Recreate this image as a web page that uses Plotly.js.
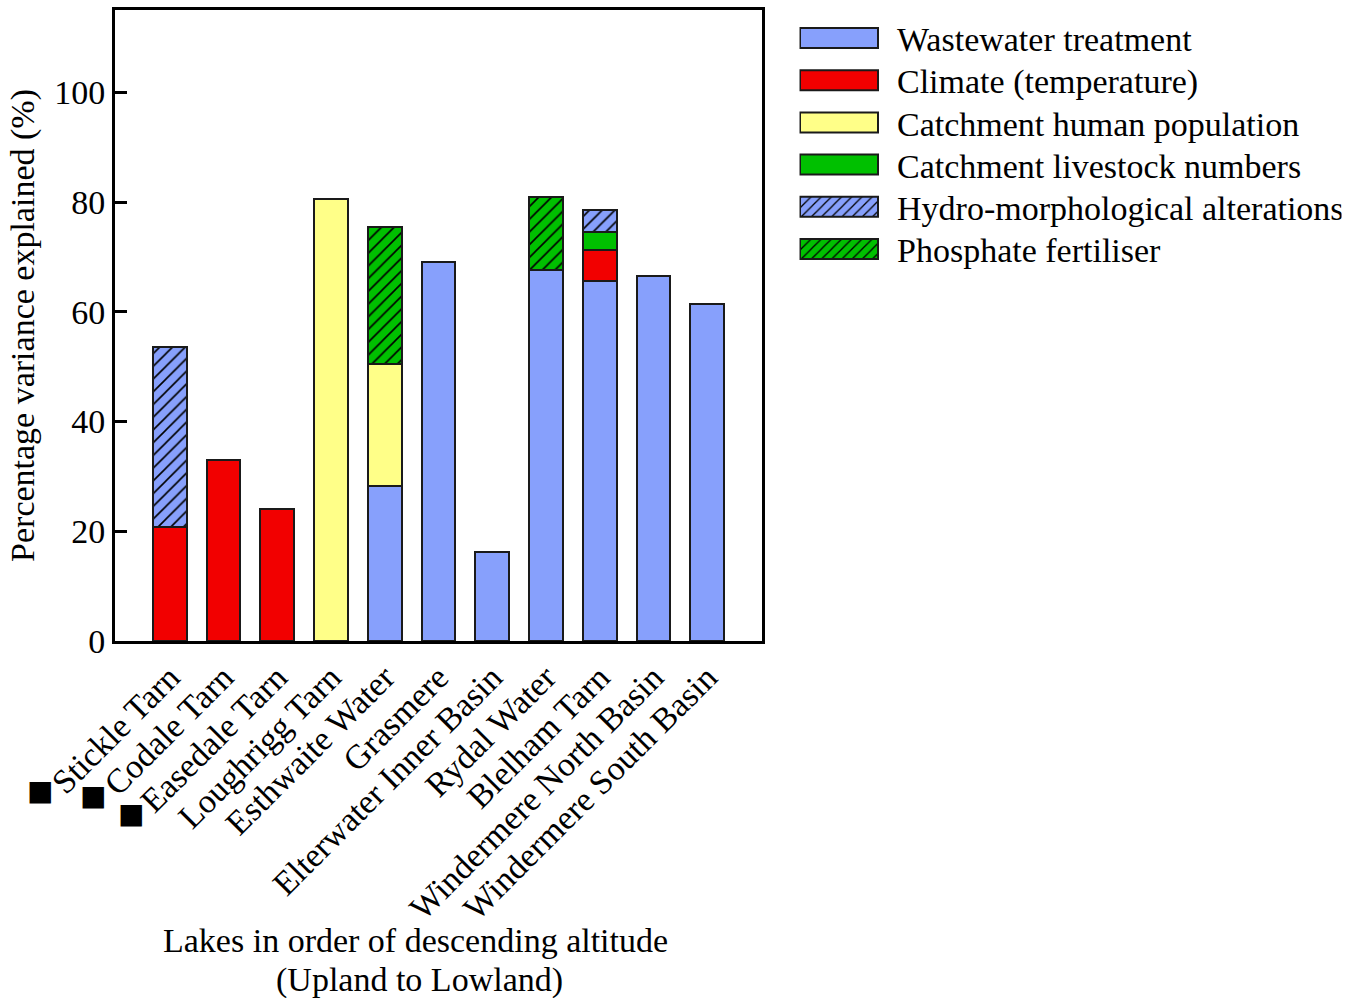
<!DOCTYPE html>
<html>
<head>
<meta charset="utf-8">
<script src="https://cdn.plot.ly/plotly-3.0.1.min.js"></script>
<style>html,body{margin:0;padding:0;background:#fff;}#chart{width:1359px;height:998px;}</style>
</head>
<body>
<div id="chart"></div>
<script>
var categories = ["Stickle Tarn","Codale Tarn","Easedale Tarn","Loughrigg Tarn","Esthwaite Water","Grasmere","Elterwater Inner Basin","Rydal Water","Blelham Tarn","Windermere North Basin","Windermere South Basin"];
var wastewater = [null,null,null,null,28.2,69.0,16.2,67.6,65.6,66.5,61.4];
var climate    = [20.8,33.0,24.0,null,null,null,null,null,5.6,null,null];
var population = [null,null,null,80.5,22.3,null,null,null,null,null,null];
var livestock  = [null,null,null,null,null,null,null,null,3.3,null,null];
var hydro      = [32.8,null,null,null,null,null,null,null,4.0,null,null];
var phosphate  = [null,null,null,null,24.9,null,null,13.3,null,null,null];
var seriesNames = ["Wastewater treatment","Climate (temperature)","Catchment human population","Catchment livestock numbers","Hydro-morphological alterations","Phosphate fertiliser"];
var yTicks = [0,20,40,60,80,100];
var markedLakes = ["Stickle Tarn","Codale Tarn","Easedale Tarn"];
var xTitleLines = ["Lakes in order of descending altitude", "(Upland to Lowland)"];

var BLUE = "#87a0fc", RED = "#f20000", YELLOW = "#ffff88", GREEN = "#00c000";
var font = "'Liberation Serif', 'Times New Roman', serif";
var FS = 34;

function bar(name, y, color, hatch) {
  var m = {color: color, line: {color: "#1a1a1a", width: 2}};
  if (hatch) m.pattern = {shape: "/", fgcolor: "#000", bgcolor: color, size: 9, solidity: 0.18};
  return {type: "bar", x: categories, y: y, name: name, marker: m, hoverinfo: "y+name"};
}

var data = [
  bar(seriesNames[0], wastewater, BLUE, false),
  bar(seriesNames[1], climate, RED, false),
  bar(seriesNames[2], population, YELLOW, false),
  bar(seriesNames[3], livestock, GREEN, false),
  bar(seriesNames[4], hydro, BLUE, true),
  bar(seriesNames[5], phosphate, GREEN, true)
];

var annotations = [
  {xref: "paper", yref: "paper", x: 0.4652, y: -0.4754, xanchor: "center", yanchor: "middle", showarrow: false,
   text: xTitleLines[0], font: {family: font, size: FS, color: "#000"}},
  {xref: "paper", yref: "paper", x: 0.4714, y: -0.5372, xanchor: "center", yanchor: "middle", showarrow: false,
   text: xTitleLines[1], font: {family: font, size: FS, color: "#000"}}
];
var sqPos = [[-0.116, -0.237], [-0.034, -0.245], [0.025, -0.273]];
markedLakes.forEach(function (lk, i) {
  annotations.push({xref: "paper", yref: "paper", x: sqPos[i][0], y: sqPos[i][1], showarrow: false,
    text: "■", font: {family: "DejaVu Sans", size: 28, color: "#000"}, xanchor: "center", yanchor: "middle"});
});

var layout = {
  width: 1359, height: 998,
  margin: {l: 115, r: 597, t: 10, b: 357},
  paper_bgcolor: "#fff", plot_bgcolor: "#fff",
  barmode: "stack", bargap: 0.37,
  font: {family: font, size: FS, color: "#000"},
  xaxis: {type: "category", range: [-1.02, 11.02], showline: true, mirror: true, linecolor: "#000", linewidth: 3,
          ticks: "", tickangle: -45, tickfont: {family: font, size: FS, color: "#000"}, showgrid: false, zeroline: false, automargin: false},
  yaxis: {range: [0, 115], tickvals: yTicks, ticks: "inside", ticklen: 12, tickwidth: 3, tickcolor: "#000",
          showline: true, mirror: true, linecolor: "#000", linewidth: 3, showgrid: false, zeroline: false,
          tickfont: {family: font, size: FS, color: "#000"},
          title: {text: "Percentage variance explained (%)", font: {family: font, size: FS, color: "#000"}, standoff: 10}, automargin: false},
  legend: {x: 1.058, y: 0.995, xanchor: "left", yanchor: "top", traceorder: "normal", itemwidth: 80,
           font: {family: font, size: FS, color: "#000"}, bgcolor: "rgba(0,0,0,0)", itemclick: false},
  annotations: annotations,
  showlegend: true
};

Plotly.newPlot("chart", data, layout, {staticPlot: true}).then(function () {
  var items = document.querySelectorAll(".legend .traces");
  items.forEach(function (it, i) {
    var txt = it.querySelector("text.legendtext");
    var p = it.querySelector(".legendpoints path");
    if (!txt || !p) return;
    // move the item so that text starts at x=897 and the symbol centre sits on the reference row
    var tr0 = txt.getBoundingClientRect();
    var pr0 = p.getBoundingClientRect();
    var dx = 897 - tr0.left;
    var dy = (38 + i * 42.2) - (pr0.top + pr0.height / 2);
    var m = /translate\(\s*([-\d.e]+)[ ,]+([-\d.e]+)\s*\)/.exec(it.getAttribute("transform") || "");
    var tx = m ? parseFloat(m[1]) : 0, ty = m ? parseFloat(m[2]) : 0;
    it.setAttribute("transform", "translate(" + (tx + dx) + "," + (ty + dy) + ")");
    var tr = txt.getBoundingClientRect();
    var pr = p.getBoundingClientRect();
    var pb = p.getBBox();
    var offX = pr.left - pb.x, offY = pr.top - pb.y;
    var cy = pr.top + pr.height / 2;
    var x0 = 800 - offX, x1 = 878 - offX;
    var y0 = cy - 10 - offY, y1 = cy + 10 - offY;
    p.setAttribute("d", "M" + x0 + "," + y0 + "H" + x1 + "V" + y1 + "H" + x0 + "Z");
    p.style.strokeWidth = "2px";
    p.style.stroke = "#1a1a1a";
  });
});
</script>
</body>
</html>
